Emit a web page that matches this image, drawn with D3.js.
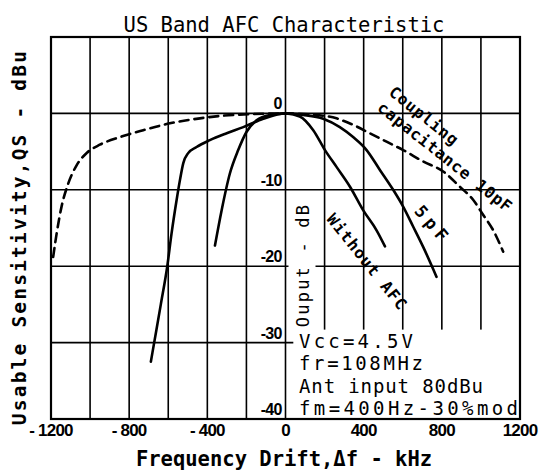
<!DOCTYPE html>
<html>
<head>
<meta charset="utf-8">
<script src="https://cdn.jsdelivr.net/npm/d3@7"></script>
<style>
  html, body { margin: 0; padding: 0; background: #fff; }
  svg { display: block; }
</style>
</head>
<body>
<div id="chart"></div>
<script>
/* US band AFC characteristic, redrawn from a datasheet scan.
   Three response curves on a kHz x dB grid, plus the test-condition box. */

// --- data ---
const xTicks = [-1200, -800, -400, 0, 400, 800, 1200];
const yTicks = [0, -10, -20, -30, -40];

// [drift kHz, output dB]
const withoutAfc = [
  [-361, -17.3], [-327, -12.7], [-285, -7.9], [-242, -4.8], [-199, -2.4],
  [-148, -0.9], [-80, -0.2], [0, 0], [73, -0.4], [142, -2.2], [202, -4.8],
  [261, -7.0], [330, -9.6], [398, -12.7], [466, -15.3], [509, -17.4],
];
const cap5pF = [
  [-689, -32.5], [-672, -30], [-638, -25], [-605, -20], [-583, -15.7],
  [-557, -11.3], [-540, -8.7], [-523, -6.5], [-498, -5.2], [-455, -4.4],
  [-387, -3.5], [-301, -2.6], [-216, -1.8], [-114, -0.7], [0, 0], [91, -0.2],
  [193, -0.7], [278, -1.8], [346, -3.1], [415, -4.8], [483, -7.4], [551, -10.0],
  [602, -12.2], [653, -14.8], [705, -17.5], [773, -21.4],
];
const cap10pF = [
  [-1189, -18.8], [-1171, -15.7], [-1146, -12.2], [-1112, -9.2], [-1069, -6.8],
  [-1018, -5.2], [-950, -4.1], [-847, -3.1], [-728, -2.2], [-592, -1.3],
  [-438, -0.65], [-268, -0.2], [0, 0], [130, -0.15], [261, -0.65], [346, -1.5],
  [432, -2.6], [517, -3.7], [602, -4.8], [705, -6.3], [807, -7.6], [892, -9.6],
  [960, -11.3], [1012, -13.3], [1063, -15.3], [1114, -18.1],
];
const conditions = ["Vcc=4.5V", "fr=108MHz", "Ant input 80dBu", "fm=400Hz-30%mod"];

(function () {
  "use strict";

  const W = 543, H = 471;
  const margin = { top: 37, right: 23, bottom: 52, left: 51 };
  const MONO = "'DejaVu Sans Mono', 'Liberation Mono', monospace";
  const NUM = "'Liberation Sans', Arial, sans-serif";
  const INK = "#000";

  const svg = d3.select("#chart").append("svg")
    .attr("width", W).attr("height", H)
    .attr("viewBox", `0 0 ${W} ${H}`);

  const x = d3.scaleLinear().domain([-1200, 1200]).range([margin.left, W - margin.right]);
  const y = d3.scaleLinear().domain([-40, 10]).range([H - margin.bottom, margin.top]);

  // grid: every 200 kHz, every 10 dB
  const gx = d3.range(-1000, 1001, 200);
  const gy = d3.range(-30, 1, 10);
  svg.append("g")
    .selectAll("line").data(gx).join("line")
    .attr("x1", (d) => x(d)).attr("x2", (d) => x(d))
    .attr("y1", y(10)).attr("y2", y(-40))
    .attr("stroke", INK).attr("stroke-width", 1.6);
  svg.append("g")
    .selectAll("line").data(gy).join("line")
    .attr("x1", x(-1200)).attr("x2", x(1200))
    .attr("y1", (d) => y(d)).attr("y2", (d) => y(d))
    .attr("stroke", INK).attr("stroke-width", 1.6);

  // white patches the scan has behind the inner axis title and the condition box
  svg.append("rect")
    .attr("x", x(0) + 3).attr("y", y(-11.4))
    .attr("width", 27).attr("height", y(-28.3) - y(-11.4))
    .attr("fill", "#fff");
  svg.append("rect")
    .attr("x", x(40)).attr("y", y(-28.3))
    .attr("width", x(1200) - x(40) - 1).attr("height", y(-40) - y(-28.3))
    .attr("fill", "#fff");

  svg.append("rect")
    .attr("x", x(-1200)).attr("y", y(10))
    .attr("width", x(1200) - x(-1200)).attr("height", y(-40) - y(10))
    .attr("fill", "none").attr("stroke", INK).attr("stroke-width", 2.2);

  // curves
  const line = d3.line()
    .x((d) => x(d[0])).y((d) => y(d[1]))
    .curve(d3.curveMonotoneX);
  [
    { data: cap10pF, dash: "9,6" },
    { data: cap5pF, dash: null },
    { data: withoutAfc, dash: null },
  ].forEach((c) => {
    svg.append("path")
      .attr("d", line(c.data))
      .attr("fill", "none")
      .attr("stroke", INK)
      .attr("stroke-width", 2.6)
      .attr("stroke-linecap", "round")
      .attr("stroke-dasharray", c.dash);
  });

  // y ticks sit inside the plot, right against the 0 kHz line
  svg.append("g")
    .selectAll("text").data(yTicks).join("text")
    .attr("x", x(0) - 4).attr("y", (d) => y(d) - 4)
    .attr("text-anchor", "end")
    .attr("font-family", NUM).attr("font-weight", "bold")
    .attr("font-size", 16).attr("letter-spacing", -0.8)
    .text((d) => (d === 0 ? "0" : "-" + Math.abs(d)));

  svg.append("g")
    .selectAll("text").data(xTicks).join("text")
    .attr("x", (d) => x(d)).attr("y", y(-40) + 17)
    .attr("text-anchor", "middle")
    .attr("font-family", NUM).attr("font-weight", "bold")
    .attr("font-size", 17).attr("letter-spacing", -0.8)
    .text((d) => (d < 0 ? "- " + Math.abs(d) : String(d)));

  // titles
  svg.append("text")
    .attr("x", 284).attr("y", 32)
    .attr("text-anchor", "middle")
    .attr("font-family", MONO).attr("font-size", 20.5)
    .text("US Band AFC Characteristic");

  svg.append("text")
    .attr("x", 284).attr("y", 466)
    .attr("text-anchor", "middle")
    .attr("font-family", MONO).attr("font-weight", "bold").attr("font-size", 20.5)
    .text("Frequency Drift,\u0394f - kHz");

  svg.append("text")
    .attr("transform", "translate(26,237) rotate(-90)")
    .attr("text-anchor", "middle")
    .attr("font-family", MONO).attr("font-weight", "bold").attr("font-size", 19.5)
    .attr("letter-spacing", 2.2)
    .text("Usable Sensitivity,QS - dBu");

  svg.append("text")
    .attr("transform", "translate(309,265) rotate(-90)")
    .attr("text-anchor", "middle")
    .attr("font-family", MONO).attr("font-size", 17)
    .attr("letter-spacing", 2.2)
    .text("Ouput - dB");

  // curve labels, rotated along the curves
  const curveLabels = [
    { text: "Coupling", cx: 424, cy: 116, angle: 38.6, ls: 0.9 },
    { text: "capacitance 10pF", cx: 445, cy: 157, angle: 38.4, ls: 0.8 },
    { text: "5pF", cx: 433, cy: 225, angle: 49.5, ls: 5 },
    { text: "Without AFC", cx: 367, cy: 262, angle: 51.3, ls: 1.1 },
  ];
  svg.append("g")
    .selectAll("text").data(curveLabels).join("text")
    .attr("transform", (d) => `translate(${d.cx},${d.cy}) rotate(${d.angle})`)
    .attr("text-anchor", "middle")
    .attr("dominant-baseline", "central")
    .attr("font-family", MONO).attr("font-weight", "bold")
    .attr("font-size", (d) => (d.text === "5pF" ? 17 : 16))
    .attr("letter-spacing", (d) => d.ls)
    .text((d) => d.text);

  // test conditions box text
  const condWidths = [114, 124, 184, 219];
  svg.append("g")
    .selectAll("text").data(conditions).join("text")
    .attr("x", 299)
    .attr("y", (d, i) => 348 + i * 22.3)
    .attr("font-family", MONO).attr("font-size", 19)
    .attr("textLength", (d, i) => condWidths[i])
    .attr("lengthAdjust", "spacing")
    .text((d) => d);
})();
</script>
</body>
</html>
